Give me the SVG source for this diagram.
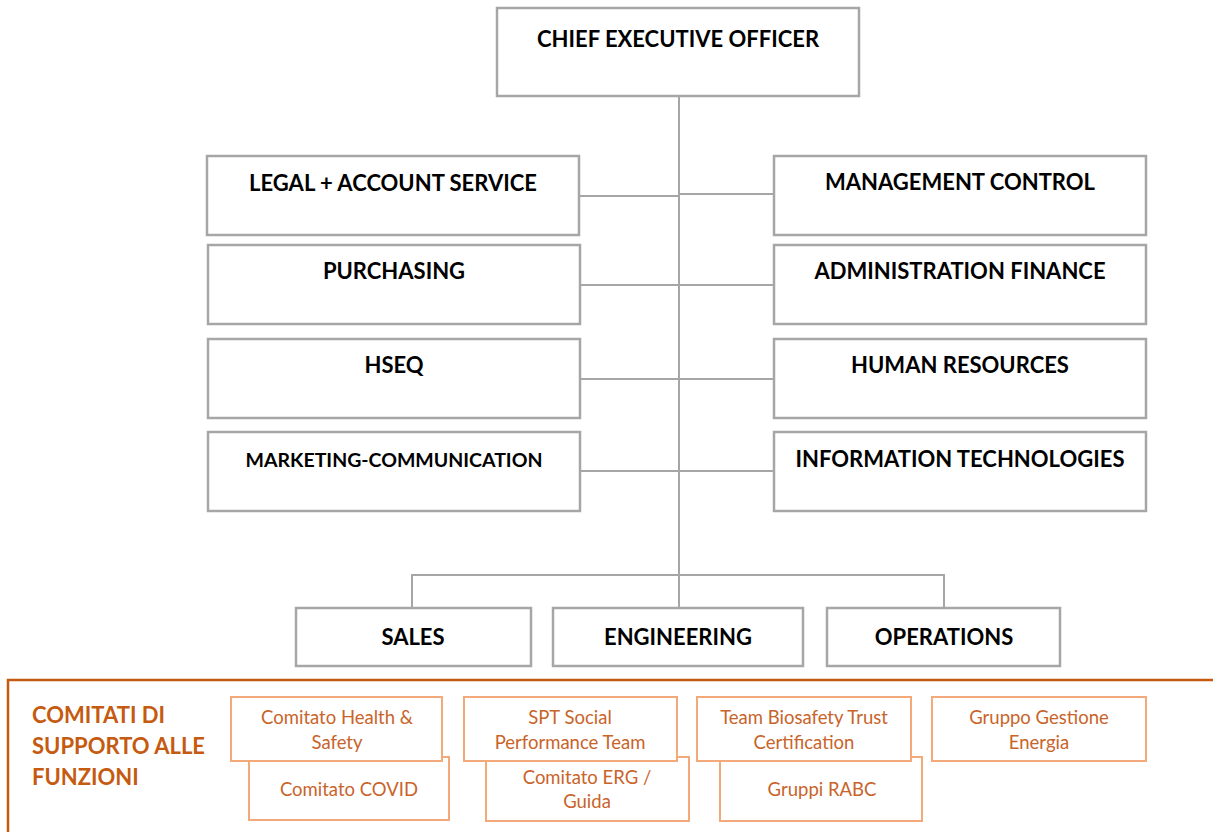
<svg xmlns="http://www.w3.org/2000/svg" width="1213" height="832" viewBox="0 0 1213 832">
<style>
.box{fill:#fff;stroke:#A6A6A6;stroke-width:2.5}
.lbl{font-family:Lato,"Open Sans","Liberation Sans",sans-serif;font-weight:bold;font-size:22px;fill:#000;text-anchor:middle}
.conn{fill:none;stroke:#A6A6A6;stroke-width:2}
.obox{fill:#fff;stroke:#F4A97A;stroke-width:2}
.olbl{font-family:Lato,"Open Sans","Liberation Sans",sans-serif;font-size:18.5px;fill:#C8642A;text-anchor:middle}
.otitle{font-family:Lato,"Open Sans","Liberation Sans",sans-serif;font-weight:bold;font-size:22px;fill:#C55A11}
</style>
<rect width="1213" height="832" fill="#fff"/>
<g id="connectors">
<path class="conn" d="M679 96V608"/>
<path class="conn" d="M579 196H679M679 194H774"/>
<path class="conn" d="M580 285H774"/>
<path class="conn" d="M580 379H774"/>
<path class="conn" d="M580 471H774"/>
<path class="conn" d="M412 608V575H944V608"/>
</g>
<g id="ceo"><rect class="box" x="497" y="8" width="362" height="88"/><text class="lbl" x="678" y="47">CHIEF EXECUTIVE OFFICER</text></g>
<g id="legal"><rect class="box" x="207" y="156" width="372" height="79"/><text class="lbl" x="393" y="191">LEGAL + ACCOUNT SERVICE</text></g>
<g id="mgmt"><rect class="box" x="774" y="156" width="372" height="79"/><text class="lbl" x="960" y="190">MANAGEMENT CONTROL</text></g>
<g id="purchasing"><rect class="box" x="208" y="245" width="372" height="79"/><text class="lbl" x="394" y="279">PURCHASING</text></g>
<g id="admin"><rect class="box" x="774" y="245" width="372" height="79"/><text class="lbl" x="960" y="279">ADMINISTRATION FINANCE</text></g>
<g id="hseq"><rect class="box" x="208" y="339" width="372" height="79"/><text class="lbl" x="394" y="373">HSEQ</text></g>
<g id="hr"><rect class="box" x="774" y="339" width="372" height="79"/><text class="lbl" x="960" y="373">HUMAN RESOURCES</text></g>
<g id="marketing"><rect class="box" x="208" y="432" width="372" height="79"/><text class="lbl" x="394" y="467" style="font-size:19.5px">MARKETING-COMMUNICATION</text></g>
<g id="it"><rect class="box" x="774" y="432" width="372" height="79"/><text class="lbl" x="960" y="467">INFORMATION TECHNOLOGIES</text></g>
<g id="sales"><rect class="box" x="296" y="608" width="235" height="58"/><text class="lbl" x="413" y="645">SALES</text></g>
<g id="engineering"><rect class="box" x="553" y="608" width="250" height="58"/><text class="lbl" x="678" y="645">ENGINEERING</text></g>
<g id="operations"><rect class="box" x="827" y="608" width="233" height="58"/><text class="lbl" x="944" y="645">OPERATIONS</text></g>
<g id="comitati">
<path d="M8 834V680H1215" fill="none" stroke="#C55A11" stroke-width="2.5"/>
<text class="otitle" x="32" y="723">COMITATI DI</text>
<text class="otitle" x="32" y="754">SUPPORTO ALLE</text>
<text class="otitle" x="32" y="785">FUNZIONI</text>
</g>
<g id="covid"><rect class="obox" x="249" y="757" width="200" height="63"/><text class="olbl" x="349" y="796">Comitato COVID</text></g>
<g id="health"><rect class="obox" x="231" y="697" width="211" height="64"/><text class="olbl" x="337" y="724">Comitato Health &amp;</text><text class="olbl" x="337" y="749">Safety</text></g>
<g id="erg"><rect class="obox" x="486" y="757" width="203" height="64"/><text class="olbl" x="587" y="784">Comitato ERG /</text><text class="olbl" x="587" y="808">Guida</text></g>
<g id="spt"><rect class="obox" x="464" y="697" width="213" height="64"/><text class="olbl" x="570" y="724">SPT Social</text><text class="olbl" x="570" y="749">Performance Team</text></g>
<g id="rabc"><rect class="obox" x="720" y="757" width="202" height="64"/><text class="olbl" x="822" y="796">Gruppi RABC</text></g>
<g id="biosafety"><rect class="obox" x="697" y="697" width="214" height="64"/><text class="olbl" x="804" y="724">Team Biosafety Trust</text><text class="olbl" x="804" y="749">Certification</text></g>
<g id="energia"><rect class="obox" x="932" y="697" width="214" height="64"/><text class="olbl" x="1039" y="724">Gruppo Gestione</text><text class="olbl" x="1039" y="749">Energia</text></g>
</svg>
